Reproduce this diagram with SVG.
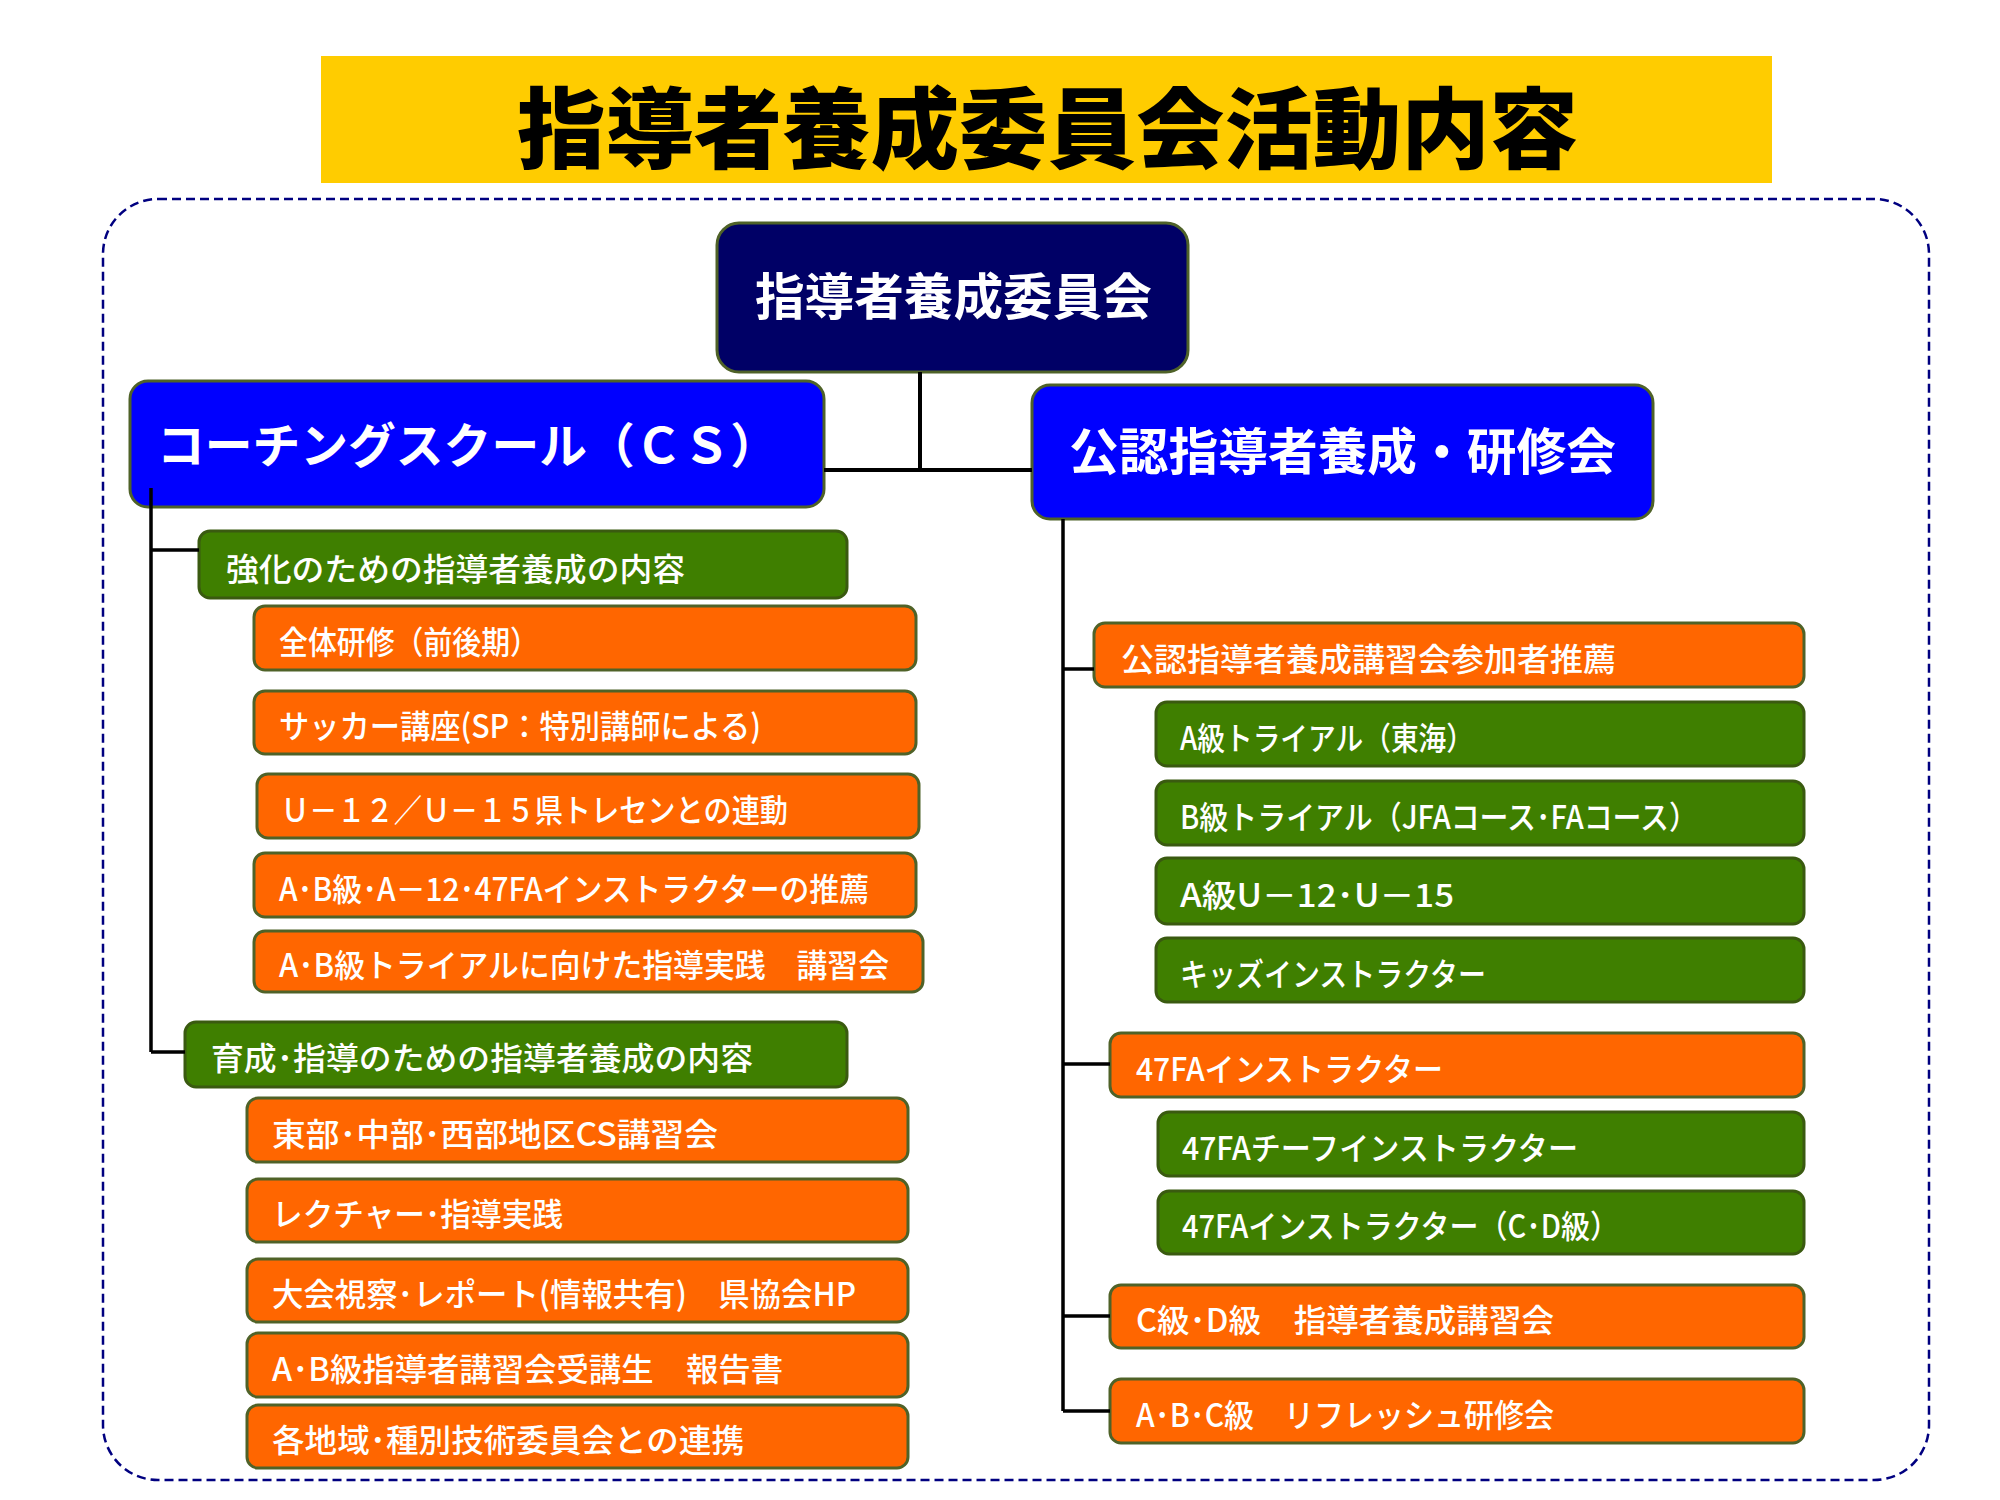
<svg xmlns="http://www.w3.org/2000/svg" width="2000" height="1500" viewBox="0 0 2000 1500">
<style>
  text { font-family: "Noto Sans CJK JP", "Noto Sans", sans-serif; fill: #ffffff; dominant-baseline: central; }
  .title { font-size: 88px; font-weight: 900; fill: #000000; }
  .big { font-size: 50px; font-weight: 700; }
  .mid { font-size: 48px; font-weight: 700; }
  .sm { font-size: 32px; font-weight: 500; }
  .orange { fill: #FF6600; stroke: #4F6228; stroke-width: 3; }
  .green { fill: #3F7F00; stroke: #3A5A10; stroke-width: 3; }
  .navy { fill: #000066; stroke: #4F6228; stroke-width: 3; }
  .blue { fill: #0000FF; stroke: #4F6228; stroke-width: 3; }
  .conn { stroke: #000000; stroke-width: 4; fill: none; }
  .conn2 { stroke: #000000; stroke-width: 3.5; fill: none; }
</style>
<rect width="2000" height="1500" fill="#ffffff"/>
<g id="title">
  <rect x="321" y="56" width="1451" height="127" fill="#FFCC00"/>
  <text class="title" x="517" y="122" textLength="1061" lengthAdjust="spacingAndGlyphs">指導者養成委員会活動内容</text>
</g>
<rect id="frame" x="103" y="199" width="1826" height="1281" rx="55" ry="55" fill="none" stroke="#000080" stroke-width="2.5" stroke-dasharray="9 5"/>

<g id="root">
  <rect class="navy" x="717" y="223" width="471" height="149" rx="22"/>
  <text class="big" x="755" y="293" textLength="397" lengthAdjust="spacingAndGlyphs">指導者養成委員会</text>
</g>
<g id="cs">
  <rect class="blue" x="130" y="381" width="694" height="126" rx="18"/>
  <text class="mid" x="157" y="442" textLength="621" lengthAdjust="spacingAndGlyphs">コーチングスクール（ＣＳ）</text>
</g>
<g id="koni">
  <rect class="blue" x="1032" y="385" width="621" height="134" rx="18"/>
  <text class="big" x="1069" y="448" textLength="547" lengthAdjust="spacingAndGlyphs">公認指導者養成・研修会</text>
</g>

<g id="kyoka">
  <rect class="green" x="199" y="531" width="648" height="67" rx="11"/>
  <text class="sm" x="226" y="567" textLength="459" lengthAdjust="spacingAndGlyphs">強化のための指導者養成の内容</text>
</g>
<g id="l1">
  <rect class="orange" x="254" y="606" width="662" height="64" rx="11"/>
  <text class="sm" x="279" y="640" textLength="260" lengthAdjust="spacingAndGlyphs">全体研修（前後期）</text>
</g>
<g id="l2">
  <rect class="orange" x="254" y="691" width="662" height="63" rx="11"/>
  <text class="sm" x="279" y="724" textLength="482" lengthAdjust="spacingAndGlyphs">サッカー講座(SP：特別講師による)</text>
</g>
<g id="l3">
  <rect class="orange" x="257" y="774" width="662" height="64" rx="11"/>
  <text class="sm" x="281" y="808" textLength="507" lengthAdjust="spacingAndGlyphs">Ｕ－１２／Ｕ－１５県トレセンとの連動</text>
</g>
<g id="l4">
  <rect class="orange" x="254" y="853" width="662" height="64" rx="11"/>
  <text class="sm" x="279" y="887" textLength="590" lengthAdjust="spacingAndGlyphs">A･B級･A－12･47FAインストラクターの推薦</text>
</g>
<g id="l5">
  <rect class="orange" x="254" y="931" width="669" height="61" rx="11"/>
  <text class="sm" x="279" y="963" textLength="610" lengthAdjust="spacingAndGlyphs">A･B級トライアルに向けた指導実践　講習会</text>
</g>

<g id="ikusei">
  <rect class="green" x="185" y="1022" width="662" height="65" rx="11"/>
  <text class="sm" x="211" y="1056" textLength="542" lengthAdjust="spacingAndGlyphs">育成･指導のための指導者養成の内容</text>
</g>
<g id="m1">
  <rect class="orange" x="247" y="1098" width="661" height="64" rx="11"/>
  <text class="sm" x="272" y="1132" textLength="446" lengthAdjust="spacingAndGlyphs">東部･中部･西部地区CS講習会</text>
</g>
<g id="m2">
  <rect class="orange" x="247" y="1179" width="661" height="63" rx="11"/>
  <text class="sm" x="272" y="1212" textLength="291" lengthAdjust="spacingAndGlyphs">レクチャー･指導実践</text>
</g>
<g id="m3">
  <rect class="orange" x="247" y="1259" width="661" height="63" rx="11"/>
  <text class="sm" x="272" y="1292" textLength="584" lengthAdjust="spacingAndGlyphs">大会視察･レポート(情報共有)　県協会HP</text>
</g>
<g id="m4">
  <rect class="orange" x="247" y="1333" width="661" height="64" rx="11"/>
  <text class="sm" x="272" y="1367" textLength="511" lengthAdjust="spacingAndGlyphs">A･B級指導者講習会受講生　報告書</text>
</g>
<g id="m5">
  <rect class="orange" x="247" y="1405" width="661" height="63" rx="11"/>
  <text class="sm" x="272" y="1438" textLength="472" lengthAdjust="spacingAndGlyphs">各地域･種別技術委員会との連携</text>
</g>

<g id="r1">
  <rect class="orange" x="1094" y="623" width="710" height="64" rx="11"/>
  <text class="sm" x="1121" y="657" textLength="495" lengthAdjust="spacingAndGlyphs">公認指導者養成講習会参加者推薦</text>
</g>
<g id="r1a">
  <rect class="green" x="1156" y="702" width="648" height="64" rx="11"/>
  <text class="sm" x="1180" y="736" textLength="294" lengthAdjust="spacingAndGlyphs">A級トライアル（東海）</text>
</g>
<g id="r1b">
  <rect class="green" x="1156" y="781" width="648" height="64" rx="11"/>
  <text class="sm" x="1180" y="815" textLength="518" lengthAdjust="spacingAndGlyphs">B級トライアル（JFAコース･FAコース）</text>
</g>
<g id="r1c">
  <rect class="green" x="1156" y="858" width="648" height="66" rx="11"/>
  <text class="sm" x="1180" y="893" textLength="274" lengthAdjust="spacingAndGlyphs">A級U－12･U－15</text>
</g>
<g id="r1d">
  <rect class="green" x="1156" y="938" width="648" height="64" rx="11"/>
  <text class="sm" x="1180" y="972" textLength="306" lengthAdjust="spacingAndGlyphs">キッズインストラクター</text>
</g>
<g id="r2">
  <rect class="orange" x="1110" y="1033" width="694" height="64" rx="11"/>
  <text class="sm" x="1136" y="1067" textLength="307" lengthAdjust="spacingAndGlyphs">47FAインストラクター</text>
</g>
<g id="r2a">
  <rect class="green" x="1158" y="1112" width="646" height="64" rx="11"/>
  <text class="sm" x="1182" y="1146" textLength="396" lengthAdjust="spacingAndGlyphs">47FAチーフインストラクター</text>
</g>
<g id="r2b">
  <rect class="green" x="1158" y="1191" width="646" height="63" rx="11"/>
  <text class="sm" x="1182" y="1224" textLength="437" lengthAdjust="spacingAndGlyphs">47FAインストラクター（C･D級）</text>
</g>
<g id="r3">
  <rect class="orange" x="1110" y="1285" width="694" height="63" rx="11"/>
  <text class="sm" x="1136" y="1318" textLength="418" lengthAdjust="spacingAndGlyphs">C級･D級　指導者養成講習会</text>
</g>
<g id="r4">
  <rect class="orange" x="1110" y="1379" width="694" height="64" rx="11"/>
  <text class="sm" x="1136" y="1413" textLength="418" lengthAdjust="spacingAndGlyphs">A･B･C級　リフレッシュ研修会</text>
</g>

<g id="connectors">
  <path class="conn" d="M920 372 V470 M824 470 H1032"/>
  <path class="conn2" d="M151 488 V1052 M151 550 H199 M151 1052 H185"/>
  <path class="conn2" d="M1063 519 V1411 M1063 669 H1094 M1063 1064 H1110 M1063 1316 H1110 M1063 1411 H1110"/>
</g>
</svg>
